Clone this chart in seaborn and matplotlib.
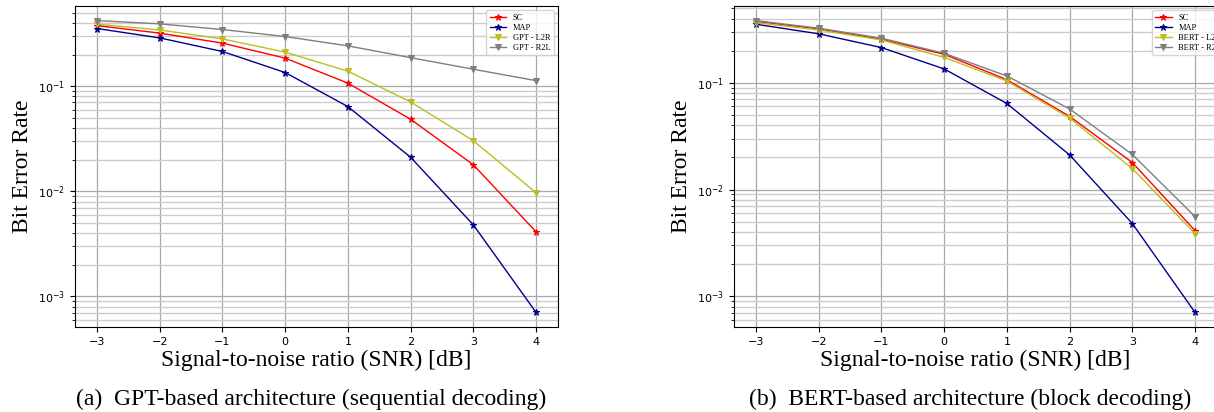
import pandas as pd
import numpy as np
import seaborn as sns
import matplotlib.pyplot as plt

# SNR points [dB]
snr = [-3, -2, -1, 0, 1, 2, 3, 4]

# bit error rates
ber_sc = [0.377, 0.32, 0.257, 0.185, 0.107, 0.0485, 0.0179, 0.00412]
ber_map = [0.354, 0.288, 0.214, 0.135, 0.064, 0.0211, 0.0048, 0.000705]
ber_gpt_l2r = [0.389, 0.343, 0.282, 0.211, 0.139, 0.0709, 0.0303, 0.0097]
ber_gpt_r2l = [0.421, 0.392, 0.346, 0.297, 0.242, 0.187, 0.145, 0.113]
ber_bert_l2r = [0.366, 0.313, 0.252, 0.173, 0.104, 0.0468, 0.0157, 0.00386]
ber_bert_r2l = [0.383, 0.325, 0.262, 0.189, 0.116, 0.0569, 0.0213, 0.00557]

captions = ["(a)  GPT-based architecture (sequential decoding)",
            "(b)  BERT-based architecture (block decoding)"]

serif = ["Liberation Serif", "DejaVu Serif"]


def plot_panel(ax, l2r, r2l, name, legend_shift=0.0):
	df = pd.DataFrame({"snr": snr, "SC": ber_sc, "MAP": ber_map,
	                   name + " - L2R": l2r, name + " - R2L": r2l})
	styles = [("SC", "red", "*"), ("MAP", "darkblue", "*"),
	          (name + " - L2R", "#bcbd22", "v"), (name + " - R2L", "#7f7f7f", "v")]
	for col, c, m in styles:
		sns.lineplot(data=df, x="snr", y=col, ax=ax, color=c, marker=m,
		             markersize=5, markeredgecolor=c, linewidth=1, label=col)
	ax.set_yscale("log")
	ax.autoscale()
	ax.set_xticks(snr)
	ax.grid(True, which="major", color="#a8a8a8", linewidth=0.9)
	ax.grid(True, which="minor", color="#cccccc", linewidth=1.0)
	ax.set_axisbelow(True)
	ax.tick_params(labelsize=8)
	ax.set_xlabel("Signal-to-noise ratio (SNR) [dB]", family=serif, fontsize=17, labelpad=2)
	ax.set_ylabel("Bit Error Rate", family=serif, fontsize=17)
	ax.legend(loc="upper right", bbox_to_anchor=(1 + legend_shift, 1),
	          prop={"family": serif, "size": 6}, labelspacing=0.25, fancybox=True)


fig = plt.figure(figsize=(12.14, 4.12), dpi=100)
W, H = 1214, 412
ax1 = fig.add_axes([75 / W, 85 / H, 483 / W, 321 / H])
ax2 = fig.add_axes([734 / W, 85 / H, 483 / W, 321 / H])

plot_panel(ax1, ber_gpt_l2r, ber_gpt_r2l, "GPT")
plot_panel(ax2, ber_bert_l2r, ber_bert_r2l, "BERT", legend_shift=12 / 483)

fig.text(311 / W, 1 - 399 / H, captions[0], family=serif, fontsize=17, ha="center", va="center")
fig.text(970 / W, 1 - 399 / H, captions[1], family=serif, fontsize=17, ha="center", va="center")

fig.savefig("out.png", dpi=100)
